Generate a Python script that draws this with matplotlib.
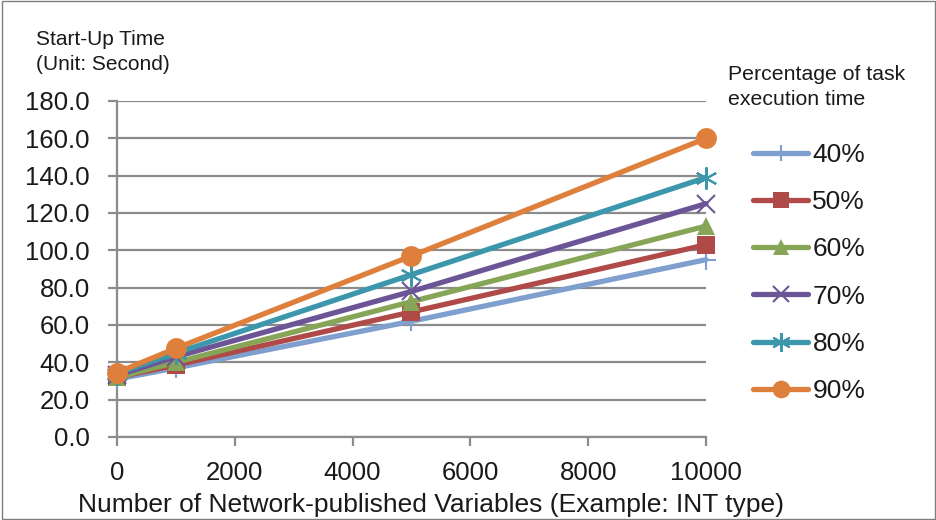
import matplotlib.pyplot as plt

plt.rcParams['font.family'] = ['Liberation Sans', 'DejaVu Sans']

# data
variables = [0, 1000, 5000, 10000]
series_labels = ['40%', '50%', '60%', '70%', '80%', '90%']
pct40 = [31.0, 37.0, 62.0, 95.0]
pct50 = [32.0, 38.5, 67.0, 103.0]
pct60 = [32.0, 40.0, 72.5, 113.0]
pct70 = [33.0, 43.0, 78.0, 125.0]
pct80 = [34.0, 45.0, 87.0, 139.0]
pct90 = [34.5, 47.5, 97.0, 160.0]
yticks = [0, 20, 40, 60, 80, 100, 120, 140, 160, 180]
xticks = [0, 2000, 4000, 6000, 8000, 10000]

colors = ['#7f9fcf', '#b04a48', '#87a556', '#6c5596', '#3c97ad', '#de7f3c']
markers = ['+', 's', '^', 'x', (6, 2, 0), 'o']
msizes = [14, 13, 13, 13, 16, 15]

W, H = 937, 520
fig = plt.figure(figsize=(W / 100, H / 100), dpi=100)
ax = fig.add_axes([117 / W, 1 - 437 / H, (706 - 117) / W, (437 - 101) / H])

all_series = [pct40, pct50, pct60, pct70, pct80, pct90]
for vals, lab, c, m, ms in zip(all_series, series_labels, colors, markers, msizes):
    ax.plot(variables, vals, color=c, lw=3.8, marker=m, markersize=ms,
            markeredgecolor=c, markeredgewidth=1.5 if m in ('+', 'x', (6, 2, 0)) else 0,
            label=lab, solid_capstyle='round', clip_on=False, zorder=3)

ax.set_xlim(0, 10000)
ax.set_ylim(0, 180)
ax.set_yticks(yticks)
ax.set_yticklabels([f'{v:.1f}' for v in yticks], fontsize=18.5)
ax.set_xticks(xticks)
ax.set_xticklabels([str(v) for v in xticks], fontsize=18.5)
ax.yaxis.grid(True, color='#8c8c8c', lw=1.6)
ax.set_axisbelow(True)
for s in ['top', 'right']:
    ax.spines[s].set_visible(False)
for s in ['left', 'bottom']:
    ax.spines[s].set_color('#8c8c8c')
    ax.spines[s].set_linewidth(1.6)
ax.tick_params(axis='both', direction='out', length=6.5, width=1.6, color='#8c8c8c',
               labelcolor='#1a1a1a')
ax.tick_params(axis='y', pad=13)
ax.tick_params(axis='x', pad=11)

fig.text(431 / W, 1 - 512 / H, 'Number of Network-published Variables (Example: INT type)',
         fontsize=19, color='#1a1a1a', ha='center', va='baseline')
fig.text(36 / W, 1 - 45 / H, 'Start-Up Time', fontsize=15, color='#1a1a1a', va='baseline')
fig.text(36 / W, 1 - 70 / H, '(Unit: Second)', fontsize=15, color='#1a1a1a', va='baseline')
fig.text(728 / W, 1 - 80 / H, 'Percentage of task', fontsize=15.3, color='#1a1a1a', va='baseline')
fig.text(728 / W, 1 - 105 / H, 'execution time', fontsize=15.3, color='#1a1a1a', va='baseline')

leg = fig.legend(loc='upper left', bbox_to_anchor=(753 / W, 1 - 143 / H),
                 frameon=False, fontsize=19, handlelength=2.1, labelspacing=0.88,
                 handletextpad=0.15, borderaxespad=0, borderpad=0, markerscale=0.85)
for t in leg.get_texts():
    t.set_color('#1a1a1a')

fig.patches.append(plt.Rectangle((0.002, 0.002), 0.996, 0.996, transform=fig.transFigure,
                                 fill=False, edgecolor='#7f7f7f', lw=1))

fig.savefig('out.png', dpi=100)
